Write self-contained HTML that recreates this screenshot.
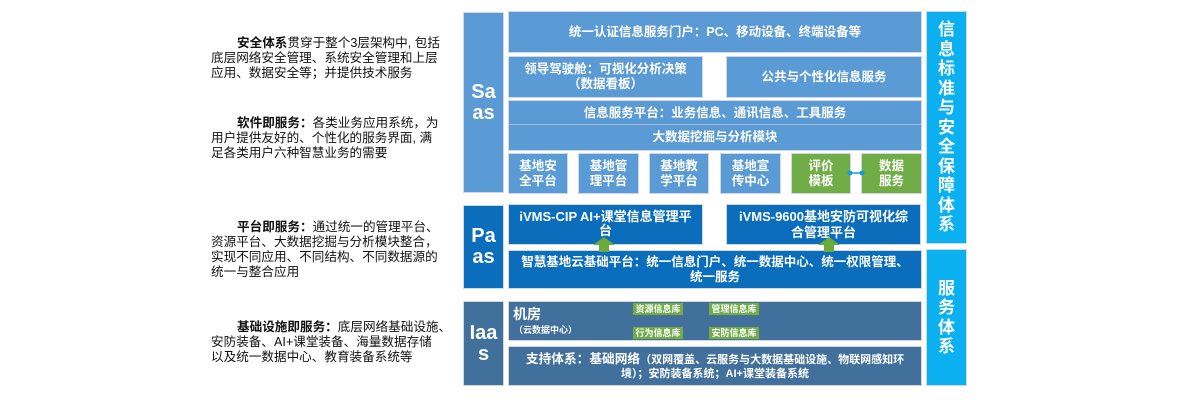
<!DOCTYPE html>
<html><head><meta charset="utf-8">
<style>
*{margin:0;padding:0;box-sizing:border-box}
html,body{width:1180px;height:400px;background:#fff;overflow:hidden}
body{position:relative;font-family:"Liberation Sans","Noto Sans CJK SC",sans-serif}
.t{position:absolute;left:211px;font-size:12.6px;line-height:15px;color:#111;white-space:nowrap}
.t b{font-weight:bold}
.b{position:absolute;display:flex;align-items:center;justify-content:center;text-align:center;color:#fff;font-weight:bold;font-size:12.5px;line-height:15px;box-shadow:0 0 0 1px rgba(190,200,215,0.7)}
.s{background:#5b9bd5}
.p{background:#0a6ebd}
.i{background:#41709c}
.g{background:#70ad47}
.c{background:#0ab0ef}
.lab{font-size:20px;line-height:21px}
.v{font-size:17px;line-height:19.5px}
.tag{position:absolute;background:#70ad47;color:#fff;font-weight:bold;font-size:9px;line-height:12px;text-align:center;box-shadow:0 0 0 1px rgba(80,110,150,0.6)}
</style></head><body>

<div class="t" style="top:35.5px">
<div style="padding-left:26px"><b>安全体系</b>贯穿于整个3层架构中, 包括</div>
<div>底层网络安全管理、系统安全管理和上层</div>
<div>应用、数据安全等；并提供技术服务</div>
</div>
<div class="t" style="top:115.5px">
<div style="padding-left:26px"><b>软件即服务：</b>各类业务应用系统，为</div>
<div>用户提供友好的、个性化的服务界面, 满</div>
<div>足各类用户六种智慧业务的需要</div>
</div>
<div class="t" style="top:219.5px">
<div style="padding-left:26px"><b>平台即服务：</b>通过统一的管理平台、</div>
<div>资源平台、大数据挖掘与分析模块整合，</div>
<div>实现不同应用、不同结构、不同数据源的</div>
<div>统一与整合应用</div>
</div>
<div class="t" style="top:319.5px">
<div style="padding-left:26px"><b>基础设施即服务：</b>底层网络基础设施、</div>
<div>安防装备、AI+课堂装备、海量数据存储</div>
<div>以及统一数据中心、教育装备系统等</div>
</div>

<!-- Saas -->
<div class="b s lab" style="left:464px;top:13px;width:39px;height:179px">Sa<br>as</div>
<div class="b s" style="left:509px;top:12px;width:412px;height:40px">统一认证信息服务门户：PC、移动设备、终端设备等</div>
<div class="b s" style="left:509px;top:57px;width:193px;height:40px">领导驾驶舱：可视化分析决策<br>（数据看板）</div>
<div class="b s" style="left:727px;top:57px;width:194px;height:40px">公共与个性化信息服务</div>
<div class="b s" style="left:509px;top:101px;width:412px;height:24px">信息服务平台：业务信息、通讯信息、工具服务</div>
<div class="b s" style="left:509px;top:125px;width:412px;height:25px">大数据挖掘与分析模块</div>
<div class="b s" style="left:509px;top:154px;width:58px;height:39px">基地安<br>全平台</div>
<div class="b s" style="left:579px;top:154px;width:59px;height:39px">基地管<br>理平台</div>
<div class="b s" style="left:650px;top:154px;width:58px;height:39px">基地教<br>学平台</div>
<div class="b s" style="left:721px;top:154px;width:59px;height:39px">基地宣<br>传中心</div>
<div class="b g" style="left:792px;top:154px;width:58px;height:39px">评价<br>模板</div>
<div class="b g" style="left:862px;top:154px;width:59px;height:39px">数据<br>服务</div>
<svg style="position:absolute;left:845px;top:167px" width="22" height="12">
<line x1="5" y1="6" x2="17" y2="6" stroke="#1a9ae0" stroke-width="1.5"/>
<circle cx="5" cy="6" r="2.5" fill="#1a9ae0"/><circle cx="17" cy="6" r="2.5" fill="#1a9ae0"/>
</svg>

<!-- right column -->
<div class="b c v" style="left:927px;top:12px;width:39px;height:231px">信<br>息<br>标<br>准<br>与<br>安<br>全<br>保<br>障<br>体<br>系</div>
<div class="b c v" style="left:927px;top:250px;width:39px;height:135px">服<br>务<br>体<br>系</div>

<!-- Paas -->
<div class="b p lab" style="left:464px;top:206px;width:39px;height:82px">Pa<br>as</div>
<div class="b p" style="left:509px;top:205px;width:193px;height:39px;font-size:13px;line-height:14px;align-items:flex-start;padding-top:5px">iVMS-CIP AI+课堂信息管理平<br>台</div>
<div class="b p" style="left:727px;top:205px;width:193px;height:39px;font-size:13px;line-height:16px">iVMS-9600基地安防可视化综<br>合管理平台</div>
<div class="b p" style="left:509px;top:251px;width:412px;height:37px;line-height:15px">智慧基地云基础平台：统一信息门户、统一数据中心、统一权限管理、<br>统一服务</div>
<svg style="position:absolute;left:592px;top:236px" width="24" height="16">
<polygon points="12,1 23,9 17,9 17,16 7,16 7,9 1,9" fill="#6aab3c"/>
</svg>
<svg style="position:absolute;left:817px;top:236px" width="24" height="16">
<polygon points="12,1 23,9 17,9 17,16 7,16 7,9 1,9" fill="#6aab3c"/>
</svg>

<!-- Iaas -->
<div class="b i lab" style="left:464px;top:302px;width:39px;height:83px">Iaa<br>s</div>
<div class="b i" style="left:509px;top:302px;width:412px;height:38px;justify-content:flex-start"></div>
<div style="position:absolute;left:513px;top:305px;color:#fff;font-weight:bold;font-size:14px;line-height:18px">机房</div>
<div style="position:absolute;left:514px;top:324px;color:#fff;font-weight:bold;font-size:9px;line-height:12px">（云数据中心）</div>
<div class="tag" style="left:633px;top:303px;width:50px;height:12px">资源信息库</div>
<div class="tag" style="left:709px;top:303px;width:50px;height:12px">管理信息库</div>
<div class="tag" style="left:633px;top:327px;width:50px;height:12px">行为信息库</div>
<div class="tag" style="left:709px;top:327px;width:50px;height:12px">安防信息库</div>
<div class="b i" style="left:509px;top:347px;width:412px;height:38px;font-size:11px;line-height:14px"><div><span style="font-size:12.7px">支持体系：基础网络</span>（双网覆盖、云服务与大数据基础设施、物联网感知环<br>境）；安防装备系统；AI+课堂装备系统</div></div>

</body></html>
